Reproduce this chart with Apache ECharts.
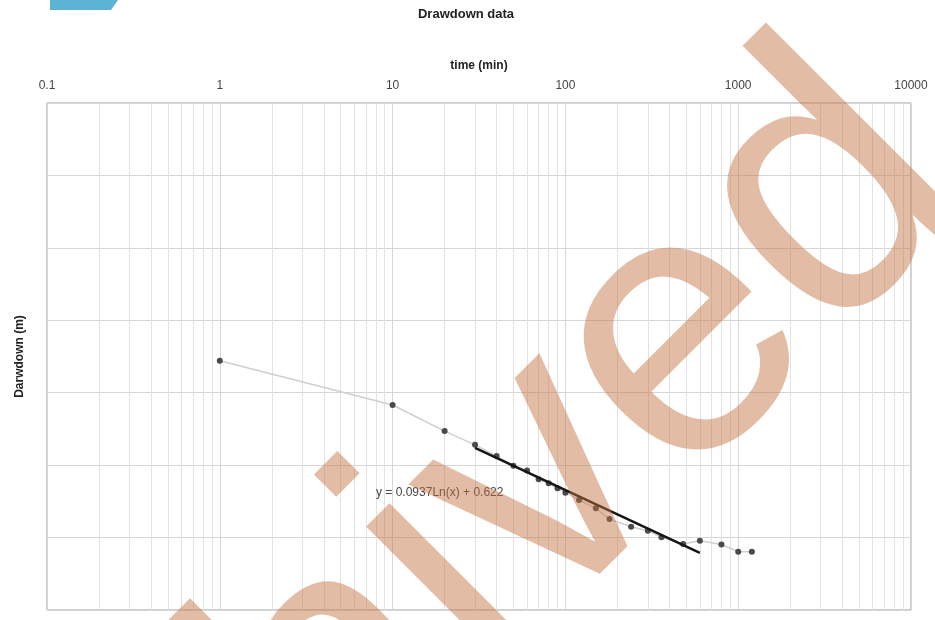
<!DOCTYPE html>
<html>
<head>
<meta charset="utf-8">
<script src="https://cdn.jsdelivr.net/npm/echarts@6/dist/echarts.min.js"></script>
<style>
  html, body { margin: 0; padding: 0; background: #fff; }
  #chart { width: 935px; height: 620px; }
</style>
</head>
<body>
<div id="chart"></div>
<script>
// pumping test readings: time since start (min) and drawdown (m)
var times = [1, 10, 20, 30, 40, 50, 60, 70, 80, 90, 100, 120, 150, 180, 240, 300, 360, 480, 600, 800, 1000, 1200];
var drawdown = [0.712, 0.834, 0.906, 0.944, 0.975, 1.002, 1.015, 1.039, 1.05, 1.064, 1.076, 1.096, 1.119, 1.149, 1.17, 1.181, 1.199, 1.218, 1.209, 1.219, 1.239, 1.239];

// log trendline ends as drawn
var trendTimes = [30, 600];
var trendValues = [0.952, 1.242];
var trendLabel = "y = 0.0937Ln(x) + 0.622";

// minor vertical grid positions
var minorTicks = [0.2, 0.3, 0.4, 0.5, 0.6, 0.7, 0.8, 0.9,
  2, 3, 4, 5, 6, 7, 8, 9,
  20, 30, 40, 50, 60, 70, 80, 90,
  200, 300, 400, 500, 600, 700, 800, 900,
  2000, 3000, 4000, 5000, 6000, 7000, 8000, 9000];

var chart = echarts.init(document.getElementById("chart"));

var points = times.map(function (t, i) { return [t, drawdown[i]]; });
var trend = trendTimes.map(function (t, i) { return [t, trendValues[i]]; });

var font = "Liberation Sans, Arial, sans-serif";

chart.setOption({
  backgroundColor: "#fff",
  animation: false,
  title: {
    text: "Drawdown data",
    left: 461,
    top: 3,
    textAlign: "center",
    textStyle: { fontSize: 13, fontWeight: "bold", color: "#222", fontFamily: font }
  },
  grid: {
    left: 47,
    right: 24,
    top: 103,
    bottom: 10,
    show: true,
    borderColor: "#9a9a9a",
    borderWidth: 1
  },
  xAxis: {
    type: "log",
    logBase: 10,
    min: 0.1,
    max: 10000,
    position: "top",
    name: "time (min)",
    nameLocation: "middle",
    nameGap: 31,
    nameTextStyle: { fontSize: 12, fontWeight: "bold", color: "#222", fontFamily: font },
    axisLine: { show: false },
    axisTick: { show: false },
    axisLabel: {
      margin: 11,
      fontSize: 12,
      color: "#444",
      fontFamily: font,
      formatter: function (v) { return String(+v.toPrecision(3)); }
    },
    splitLine: { show: true, lineStyle: { color: "#d6d6d6", width: 1 } }
  },
  yAxis: {
    type: "value",
    inverse: true,
    min: 0,
    max: 1.4,
    interval: 0.2,
    name: "Darwdown (m)",
    nameLocation: "middle",
    nameGap: 21,
    nameTextStyle: { fontSize: 12, fontWeight: "bold", color: "#222", fontFamily: font },
    axisLine: { show: false },
    axisTick: { show: false },
    axisLabel: { show: false },
    splitLine: { show: true, lineStyle: { color: "#d6d6d6", width: 1 } }
  },
  series: [
    {
      type: "line",
      name: "minor grid",
      data: [],
      silent: true,
      z: 1,
      markLine: {
        z: 1,
        silent: true,
        symbol: "none",
        label: { show: false },
        lineStyle: { color: "#e2e2e2", width: 1, type: "solid" },
        data: minorTicks.map(function (t) { return { xAxis: t }; })
      }
    },
    {
      type: "line",
      name: "Drawdown",
      data: points,
      z: 3,
      symbol: "circle",
      symbolSize: 6,
      lineStyle: { color: "#cfcfcf", width: 1.5 },
      itemStyle: { color: "#4a4a4a" }
    },
    {
      type: "line",
      name: "Trend",
      data: trend,
      z: 4,
      symbol: "none",
      lineStyle: { color: "#151515", width: 2.5 }
    }
  ],
  graphic: [
    {
      type: "text",
      left: 376,
      top: 487,
      z: 10,
      style: { text: trendLabel, fontSize: 12, fill: "#444", fontFamily: font }
    },
    {
      type: "polygon",
      z: 20,
      shape: { points: [[50, 0], [118, 0], [111, 10], [50, 10]] },
      style: { fill: "#5cb3d3" }
    },
    {
      type: "text",
      x: 386,
      y: 641,
      rotation: Math.PI / 4,
      z: 30,
      silent: true,
      style: {
        text: "Archived",
        fontSize: 376,
        fontFamily: font,
        fill: "rgba(195,115,65,0.48)",
        textAlign: "center",
        textVerticalAlign: "middle"
      }
    }
  ]
});
</script>
</body>
</html>
